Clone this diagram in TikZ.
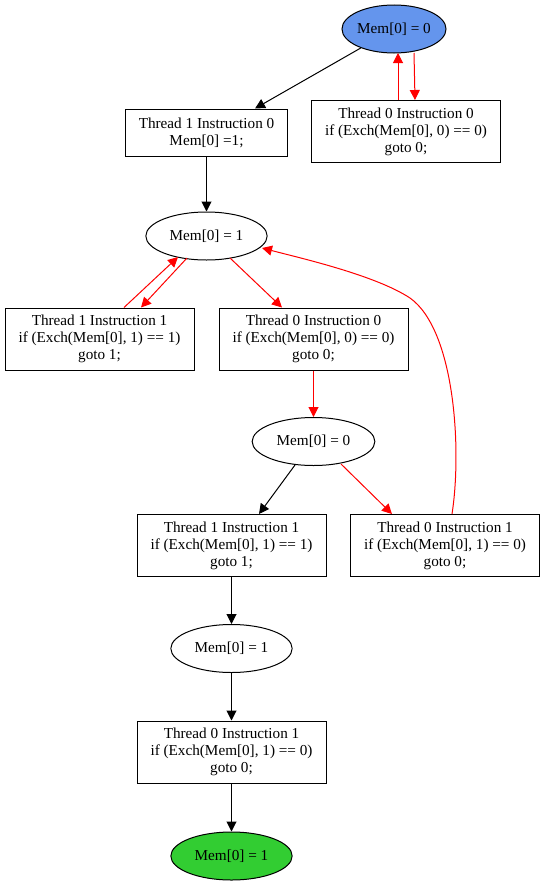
\documentclass[tikz,border=0pt]{standalone}
\usepackage{fontspec}
\setmainfont{Liberation Serif}
\usetikzlibrary{shapes.geometric,arrows.meta}
\begin{document}
\begin{tikzpicture}[x=0.75pt,y=-0.75pt,
  every node/.style={font=\fontsize{11.4pt}{12.75pt}\selectfont, inner sep=0pt, align=center},
  st/.style={ellipse, draw, line width=0.75pt, minimum width=91pt, minimum height=36pt},
  ins/.style={rectangle, draw, line width=0.75pt, minimum width=141.75pt, minimum height=46.5pt},
  ins2/.style={rectangle, draw, line width=0.75pt, minimum width=122pt, minimum height=35.25pt},
  arr/.style={-{Triangle[length=7.5pt,width=7.5pt]}, line width=0.75pt},
  red arr/.style={arr, red}]
\useasboundingbox (0,0) rectangle (545,885);
\definecolor{startblue}{RGB}{100,149,237}
\definecolor{endgreen}{RGB}{50,205,50}
\node[st, fill=startblue, minimum width=72pt] (A) at (394,29) {Mem[0] = 0};
\node[ins2] (B) at (206.5,132.5) {Thread 1 Instruction 0\\Mem[0] =1;};
\node[ins] (C) at (406,131.5) {Thread 0 Instruction 0\\if (Exch(Mem[0], 0) == 0)\\goto 0;};
\node[st] (D) at (206.5,236) {Mem[0] = 1};
\node[ins] (E) at (99.5,339) {Thread 1 Instruction 1\\if (Exch(Mem[0], 1) == 1)\\goto 1;};
\node[ins] (F) at (313.5,339) {Thread 0 Instruction 0\\if (Exch(Mem[0], 0) == 0)\\goto 0;};
\node[st, minimum width=92pt] (G) at (313.5,441.5) {Mem[0] = 0};
\node[ins] (H) at (231.5,545.5) {Thread 1 Instruction 1\\if (Exch(Mem[0], 1) == 1)\\goto 1;};
\node[ins] (I) at (445,545.5) {Thread 0 Instruction 1\\if (Exch(Mem[0], 1) == 0)\\goto 0;};
\node[st] (J) at (231.5,648.5) {Mem[0] = 1};
\node[ins] (K) at (231.5,752) {Thread 0 Instruction 1\\if (Exch(Mem[0], 1) == 0)\\goto 0;};
\node[st, fill=endgreen] (L) at (231.5,856) {Mem[0] = 1};

\draw[arr] (A) -- (B.north -| 255,0);
\draw[red arr] (C.north -| 398,0) -- (398,53);
\draw[red arr] (414,53) -- (C.north -| 415,0);
\draw[arr] (B) -- (D);
\draw[red arr] (187,258) -- (E.north -| 141,0);
\draw[red arr] (E.north -| 124,0) -- (178,257);
\draw[red arr] (230,258) -- (F.north -| 282,0);
\draw[red arr] (F) -- (G);
\draw[arr] (295,465) -- (H.north -| 259,0);
\draw[red arr] (341,464) -- (I.north -| 392,0);
\draw[red arr] (I.north -| 452,0) .. controls (462,450) and (455,330) .. (410,298)
   .. controls (375,275) and (300,258) .. (262,248);
\draw[arr] (H) -- (J);
\draw[arr] (J) -- (K);
\draw[arr] (K) -- (L);
\end{tikzpicture}
\end{document}
